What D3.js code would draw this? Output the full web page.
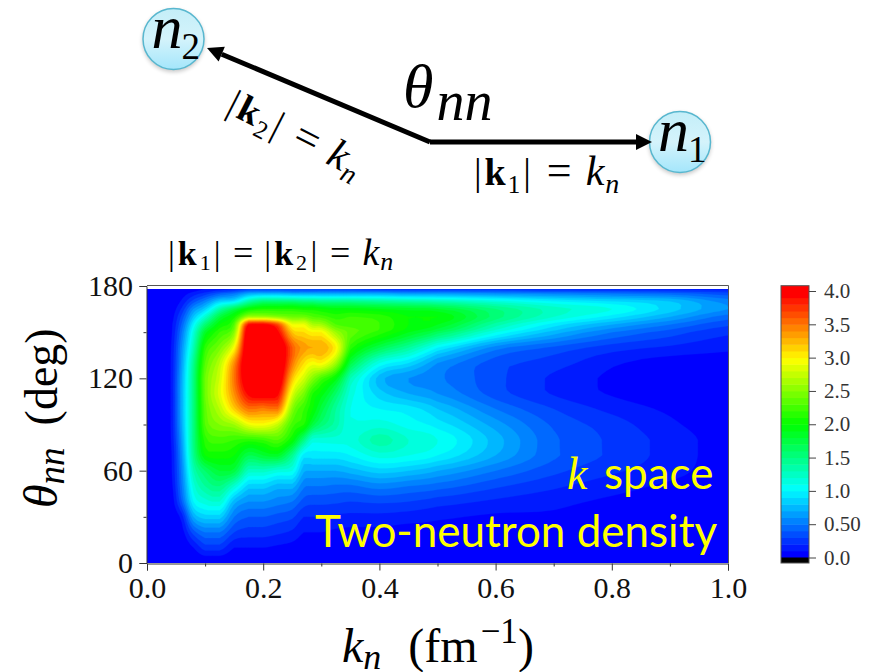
<!DOCTYPE html>
<html><head><meta charset="utf-8">
<script src="https://cdn.jsdelivr.net/npm/d3@7"></script>
<style>html,body{margin:0;padding:0;background:#fff}svg{display:block}</style>
</head><body><svg id="c" width="874" height="672"></svg>
<script>
const kValues=[0,.04,.06,.08,.1,.125,.15,.175,.2,.225,.25,.27,.285,.3,.325,.35,.4,.45,.5,.6,.7,.8,.9,1];
const thetaValues=[0,10,20,30,40,50,60,70,80,90,100,110,120,130,140,150,155,160,165,170,175,178];
// density: one list per k column, one entry per theta
const density=[
[0,0,0,0,0,0,0,0,0,0,0,0,0,0,0,0,0,0,0,0,0,0],
[0,0,0,0,0,.03,.05,.05,.07,.08,.08,.08,.08,.08,.07,.05,.05,.03,.02,0,0,0],
[0,0,.05,.15,.4,.5,.55,.6,.65,.7,.72,.72,.7,.65,.6,.5,.42,.33,.22,.12,.05,0],
[0,.1,.35,.7,1,1.15,1.3,1.45,1.5,1.5,1.5,1.5,1.5,1.45,1.3,1.15,1,.8,.6,.35,.15,.05],
[0,.25,.5,.85,1.15,1.4,1.6,2,2.15,2.3,2.35,2.4,2.4,2.3,2.15,1.85,1.55,1.2,.85,.55,.25,.1],
[0,.25,.5,.85,1.2,1.5,1.8,2.05,2.25,2.5,2.7,2.85,2.8,2.7,2.45,2.2,2,1.75,1.35,.85,.4,.15],
[0,.1,.3,.5,.75,1.2,1.75,2,2.2,2.6,3.15,3.4,3.5,3.4,2.95,2.5,2.3,2.05,1.7,.95,.5,.2],
[0,.1,.25,.4,.6,.85,1.25,1.7,2.15,2.9,3.5,3.95,4.2,4.3,4.3,4.2,3.9,2.6,2,1.35,.7,.3],
[0,.1,.25,.4,.6,.85,1.25,1.8,2.2,2.95,3.45,4.05,4.3,4.4,4.4,4.3,3.95,2.6,2.1,1.55,.75,.3],
[0,.08,.22,.36,.55,.75,1.15,1.85,2.3,2.75,3.5,3.95,4.2,4.3,4.3,3.95,3.65,2.5,2.1,1.55,.75,.3],
[0,.06,.18,.32,.5,.75,1.1,1.45,2,2.25,2.5,2.85,3.2,3.5,3.6,3.2,2.9,2.4,2.1,1.55,.7,.3],
[0,.03,.1,.2,.36,.52,.72,.95,1.5,2.1,2.2,2.45,2.8,3.1,3.35,3.1,2.9,2.4,2.05,1.5,.7,.3],
[0,.03,.1,.2,.33,.5,.7,.95,1.15,1.75,2,2.1,2.5,2.95,3.3,3,2.65,2.3,2.05,1.5,.7,.3],
[0,.03,.1,.2,.33,.5,.7,.95,1.15,1.55,1.75,1.95,2.25,3,3.3,3,2.6,2.25,2,1.45,.7,.3],
[0,.02,.08,.18,.32,.48,.7,.95,1.15,1.35,1.4,1.6,1.95,2.6,3,2.6,2.3,2.15,1.95,1.45,.7,.3],
[0,.02,.07,.17,.3,.48,.75,1,1.15,1.1,1.1,1.15,1.3,1.75,2.15,2.35,2.25,2.2,1.95,1.45,.7,.3],
[0,.02,.07,.17,.32,.55,.85,1.15,1.35,1.15,1,.85,.75,1.1,1.7,2.15,2.2,2.15,1.9,1.4,.7,.25],
[0,.01,.05,.15,.3,.5,.8,1.1,1.2,1.05,.95,.7,.6,.9,1.4,1.9,2,2,1.85,1.35,.65,.25],
[0,0,.05,.12,.25,.45,.7,1,1.1,.95,.8,.6,.52,.6,1,1.65,1.9,2,1.8,1.3,.65,.25],
[0,0,.02,.08,.18,.32,.5,.7,.75,.65,.5,.35,.33,.35,.55,1.1,1.35,1.55,1.5,1.15,.6,.25],
[0,0,.03,.08,.13,.22,.33,.42,.42,.38,.3,.19,.18,.25,.38,.75,.95,1.2,1.25,1,.55,.2],
[0,0,0,.04,.08,.14,.22,.28,.28,.25,.17,.09,.08,.12,.25,.5,.7,.95,1.1,.9,.5,.2],
[0,0,0,.02,.05,.08,.14,.16,.16,.12,.08,.03,.03,.05,.18,.35,.5,.7,.85,.8,.45,.18],
[0,0,0,0,.01,.02,.04,.05,.05,.04,.03,0,0,.05,.12,.22,.32,.45,.6,.55,.35,.15]
];
const xTicks=[0,.2,.4,.6,.8,1], xMinor=[.1,.3,.5,.7,.9];
const yTicks=[0,60,120,180], yMinor=[30,90,150];
const barTicks=[0,.5,1,1.5,2,2.5,3,3.5,4];
const barLabels=["0.0","0.50","1.0","1.5","2.0","2.5","3.0","3.5","4.0"];
const rainbowStops=["#0000ff","#00ffff","#00ff00","#ffff00","#ff0000"];

const serif='"Liberation Serif","Times New Roman",serif';
const svg=d3.select("#c");
const defs=svg.append("defs");
const grad=defs.append("linearGradient").attr("id","ball").attr("x1",0).attr("x2",0).attr("y1",0).attr("y2",1);
grad.append("stop").attr("offset","0").attr("stop-color","#c4eef8");
grad.append("stop").attr("offset",".5").attr("stop-color","#d4f3fb");
grad.append("stop").attr("offset","1").attr("stop-color","#a4e6fb");
const blur=defs.append("filter").attr("id","sh").attr("x","-20%").attr("y","-20%").attr("width","140%").attr("height","150%");
blur.append("feGaussianBlur").attr("stdDeviation",2);
const clip=defs.append("clipPath").attr("id","plot");

const x=d3.scaleLinear().domain([0,1]).range([147,728]);
const y=d3.scaleLinear().domain([0,180]).range([563,286]);
const color=d3.scaleLinear().domain([0,1,2,3,4]).range(rainbowStops).clamp(true);
const step=0.1, bandColor=a=>color(a*4/3.9);

// --- heat map: the grid is refined with a limited Catmull-Rom pass only so the contour bands draw smoothly
const nK=kValues.length, nT=thetaValues.length, m=4;
const cr=(p,t)=>{const [a,b,c,d]=p;const v=.5*(2*b+(c-a)*t+(2*a-5*b+4*c-d)*t*t+(3*b-a-3*c+d)*t*t*t);return Math.max(Math.min(b,c),Math.min(Math.max(b,c),v));};
const at=(i,j)=>density[Math.max(0,Math.min(nK-1,i))][Math.max(0,Math.min(nT-1,j))];
const fK=(nK-1)*m+1, fT=(nT-1)*m+1, values=new Array(fK*fT);
for(let j=0;j<fT;j++){
  const jb=Math.min(nT-2,Math.floor(j/m)), tj=j/m-jb;
  for(let i=0;i<fK;i++){
    const ib=Math.min(nK-2,Math.floor(i/m)), ti=i/m-ib;
    const col=[-1,0,1,2].map(di=>cr([-1,0,1,2].map(dj=>at(ib+di,jb+dj)),tj));
    values[j*fK+i]=Math.max(0,cr(col,ti));
  }
}
const idxK=d3.scaleLinear().domain(d3.range(nK)).range(kValues).clamp(true);
const idxT=d3.scaleLinear().domain(d3.range(nT)).range(thetaValues).clamp(true);
const proj=d3.geoTransform({point(a,b){this.stream.point(x(idxK((a-.5)/m)),y(idxT((b-.5)/m)));}});
const path=d3.geoPath(proj);
const thresholds=d3.range(0,4.0001,step);
const contours=d3.contours().size([fK,fT]).smooth(true).thresholds(thresholds)(values);
clip.append("rect").attr("x",x(0)).attr("width",x(1)-x(0)).attr("y",y(178)).attr("height",y(0)-y(178));
const hm=svg.append("g").attr("clip-path","url(#plot)");
hm.selectAll("path").data(contours).join("path")
  .attr("d",path).attr("fill",d=>bandColor(Math.min(d.value,3.9))).attr("stroke",d=>bandColor(Math.min(d.value,3.9))).attr("stroke-width",.3);

// --- frame & axes
svg.append("path").attr("d",`M${x(0)},${y(180)-.5}H${x(1)+.5}V${y(0)}`).attr("fill","none").attr("stroke","#555").attr("stroke-width",1);
svg.append("g").attr("transform",`translate(0,${y(0)+.5})`)
  .call(d3.axisBottom(x).tickValues(xTicks).tickFormat(d3.format(".1f")).tickSize(7).tickPadding(6));
svg.append("g").attr("transform",`translate(${x(0)-.5},0)`)
  .call(d3.axisLeft(y).tickValues(yTicks).tickFormat(d3.format("d")).tickSize(7).tickPadding(6.5));
svg.append("g").attr("transform",`translate(0,${y(0)+.5})`).call(d3.axisBottom(x).tickValues(xMinor).tickFormat("").tickSize(3)).select(".domain").remove();
svg.append("g").attr("transform",`translate(${x(0)-.5},0)`).call(d3.axisLeft(y).tickValues(yMinor).tickFormat("").tickSize(3)).select(".domain").remove();
svg.selectAll(".tick text").attr("font-family",serif).attr("font-size",30).attr("fill","#111");
svg.selectAll(".domain,.tick line").attr("stroke","#333");

// --- colour bar
const by=d3.scaleLinear().domain([0,4]).range([557.5,291]);
const bx0=781,bx1=809;
const bands=svg.append("g");
bands.selectAll("rect.b").data(thresholds.slice(0,40)).join("rect").attr("class","b")
  .attr("x",bx0).attr("width",bx1-bx0).attr("y",d=>by(d+step)).attr("height",d=>by(d)-by(d+step)+.5)
  .attr("fill",d=>bandColor(d));
bands.append("rect").attr("x",bx0).attr("width",bx1-bx0).attr("y",285.7).attr("height",by(4)-285.7).attr("fill","#ff0000");
bands.append("rect").attr("x",bx0).attr("width",bx1-bx0).attr("y",by(0)).attr("height",563-by(0)).attr("fill","#000");
bands.append("rect").attr("x",bx0).attr("width",bx1-bx0).attr("y",285.7).attr("height",563-285.7).attr("fill","none").attr("stroke","#555").attr("stroke-width",1);
const cb=svg.append("g").attr("transform",`translate(${bx1},0)`)
  .call(d3.axisRight(by).tickValues(barTicks).tickFormat((d,i)=>barLabels[i]).tickSize(7).tickPadding(8));
cb.select(".domain").remove();
cb.selectAll(".tick line").attr("stroke","#444");
cb.selectAll(".tick text").attr("font-family",serif).attr("font-size",21).attr("fill","#333");

// --- text helper: runs are {t, styling}
function mtext(parent,xp,yp,size,runs,attrs={}){
  const t=parent.append("text").attr("x",xp).attr("y",yp).attr("font-family",serif).attr("font-size",size).attr("fill",attrs.fill||"#000");
  if(attrs.transform)t.attr("transform",attrs.transform);
  runs.forEach(r=>{
    const s=t.append("tspan").text(r.t);
    if(r.i)s.attr("font-style","italic");
    if(r.b)s.attr("font-weight","bold");
    if(r.fs)s.attr("font-size",r.fs);
    if(r.dy)s.attr("dy",r.dy);
    if(r.dx)s.attr("dx",r.dx);
  });
  return t;
}
const bigRuns=n=>[{t:"|"},{t:"k",b:1,dx:3},{t:n,fs:25,dy:8,dx:2},{t:"|",dy:-8,dx:3},{t:"=",fs:44,dx:16},{t:"k",i:1,fs:42,dx:14},{t:"n",i:1,fs:28,dy:8,dx:1}];
const pairRuns=[{t:"|"},{t:"k",b:1,dx:3},{t:"1",fs:22,dy:5,dx:3},{t:"|",dy:-5,dx:3},{t:"=",fs:36,dx:12.5},{t:"|",dx:11},{t:"k",b:1,dx:3},{t:"2",fs:22,dy:5,dx:3},{t:"|",dy:-5,dx:3.5},{t:"=",fs:36,dx:12.7},{t:"k",i:1,fs:38,dx:12},{t:"n",i:1,fs:26,dy:5,dx:1}];

// --- diagram
const dg=svg.append("g");
const arrowLine=[[430,142,207,48],[430,142,652,142]];
[[173.5,39,"2"],[680,142,"1"]].forEach(d=>{
  dg.append("circle").attr("cx",d[0]).attr("cy",d[1]+2).attr("r",31).attr("fill","#000").attr("opacity",.22).attr("filter","url(#sh)");
  dg.append("circle").attr("cx",d[0]).attr("cy",d[1]).attr("r",30.5).attr("fill","url(#ball)").attr("stroke","#58b7cf").attr("stroke-width",1.5);
  mtext(dg,d[0]-22,d[1]+9,62,[{t:"n",i:1}]);
  mtext(dg,d[0]+8,d[1]+20,37,[{t:d[2]}]);
});
arrowLine.forEach(d=>{
  const a=Math.atan2(d[3]-d[1],d[2]-d[0]);
  const tip=[d[2],d[3]], L=16,W=8;
  const base=[tip[0]-L*Math.cos(a),tip[1]-L*Math.sin(a)];
  dg.append("line").attr("x1",d[0]).attr("y1",d[1]).attr("x2",base[0]).attr("y2",base[1]).attr("stroke","#000").attr("stroke-width",5);
  dg.append("path").attr("d",d3.line()([tip,[base[0]-W*Math.sin(a),base[1]+W*Math.cos(a)],[base[0]+W*Math.sin(a),base[1]-W*Math.cos(a)]])+"Z").attr("fill","#000");
});
mtext(dg,403,107,62,[{t:"θ",i:1},{t:"nn",i:1,fs:56,dy:13,dx:3}]);
mtext(dg,474,185,38,bigRuns("1"));
mtext(dg,225,112,38,bigRuns("2"),{transform:"rotate(27 225 112)"});
mtext(svg,168,265,34,pairRuns);

// --- axis titles
mtext(svg,0,0,48,[{t:"θ",i:1},{t:"nn",i:1,fs:37,dy:7},{t:"(deg)",fs:46,dy:-7,dx:22}],{transform:"translate(57,508) rotate(-90)"});
mtext(svg,342,662,48,[{t:"k",i:1},{t:"n",i:1,fs:36,dy:7},{t:"(fm",dy:-7,dx:27},{t:"−1",fs:35,dy:-19,dx:3},{t:")",dy:19}]);

// --- yellow labels
const sans='Lato,"Open Sans",sans-serif';
svg.append("text").attr("x",567).attr("y",489).attr("font-family",serif).attr("font-style","italic").attr("font-size",46).attr("fill","#ffff00").text("k");
svg.append("text").attr("x",604).attr("y",489).attr("font-family",sans).attr("font-size",44).attr("fill","#ffff00").text("space");
svg.append("text").attr("x",315).attr("y",547).attr("font-family",sans).attr("font-size",44).attr("fill","#ffff00").text("Two-neutron density");
</script></body></html>
